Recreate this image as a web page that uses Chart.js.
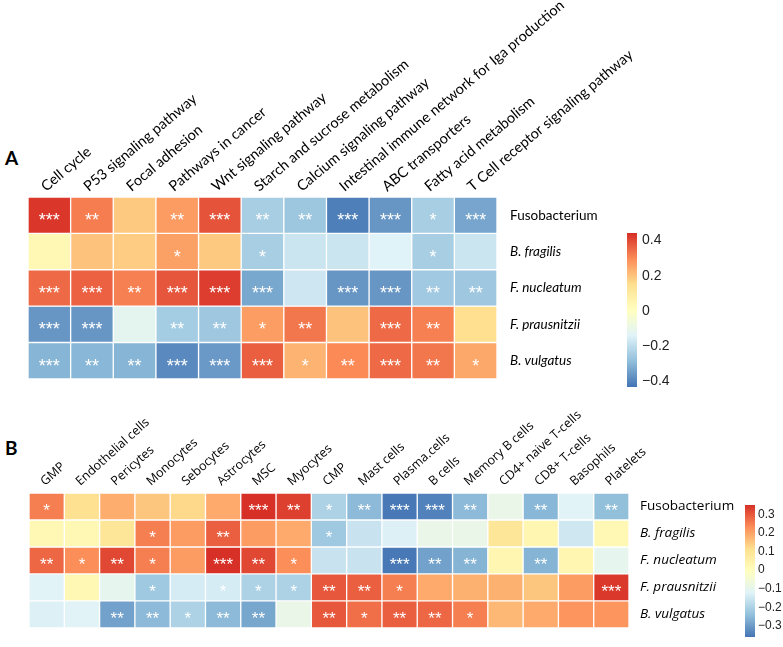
<!DOCTYPE html>
<html><head><meta charset="utf-8">
<script src="https://cdn.jsdelivr.net/npm/chart.js@4.4.0/dist/chart.umd.min.js"></script>
<style>
html,body{margin:0;padding:0;background:#fff;width:783px;height:647px;overflow:hidden;position:relative;}
canvas{position:absolute;}
.lbl{position:absolute;font-family:Lato,sans-serif;font-weight:bold;font-size:19px;color:#000;line-height:1;}
</style></head><body>
<div class="lbl" style="left:5px;top:148px">A</div>
<div class="lbl" style="left:5px;top:438px">B</div>
<canvas id="ha" width="783" height="400" style="left:0;top:0"></canvas>
<canvas id="ca" width="90" height="180" style="left:600px;top:220px"></canvas>
<canvas id="hb" width="783" height="247" style="left:0;top:400px"></canvas>
<canvas id="cb" width="65" height="156" style="left:718px;top:493px"></canvas>
<script>
// ---------- data ----------
const bacteria = ["Fusobacterium", "B. fragilis", "F. nucleatum", "F. prausnitzii", "B. vulgatus"];

const pathways = ["Cell cycle", "P53 signaling pathway", "Focal adhesion", "Pathways in cancer",
  "Wnt signaling pathway", "Starch and sucrose metabolism", "Calcium signaling pathway",
  "Intestinal immune network for Iga production", "ABC transporters", "Fatty acid metabolism",
  "T Cell receptor signaling pathway"];

const aFuso  = [0.43, 0.32, 0.19, 0.27, 0.385, -0.243, -0.263, -0.41, -0.365, -0.243, -0.335];
const aBfrag = [0.04, 0.20, 0.183, 0.26, 0.19, -0.243, -0.18, -0.18, -0.14, -0.243, -0.18];
const aFnuc  = [0.35, 0.363, 0.315, 0.38, 0.42, -0.33, -0.175, -0.365, -0.365, -0.256, -0.26];
const aFpra  = [-0.365, -0.365, -0.12, -0.25, -0.26, 0.265, 0.33, 0.20, 0.35, 0.315, 0.15];
const aBvul  = [-0.305, -0.30, -0.305, -0.39, -0.36, 0.367, 0.228, 0.30, 0.35, 0.33, 0.247];

const sAFuso  = ["***","**","","**","***","**","**","***","***","*","***"];
const sABfrag = ["","","","*","","*","","","","*",""];
const sAFnuc  = ["***","***","**","***","***","***","","***","***","**","**"];
const sAFpra  = ["***","***","","**","**","*","**","","***","**",""];
const sABvul  = ["***","**","**","***","***","***","*","**","***","**","*"];

const cells = ["GMP", "Endothelial cells", "Pericytes", "Monocytes", "Sebocytes", "Astrocytes", "MSC",
  "Myocytes", "CMP", "Mast cells", "Plasma.cells", "B cells", "Memory B cells", "CD4+ naive T-cells",
  "CD8+ T-cells", "Basophils", "Platelets"];

const bFuso  = [0.25, 0.11, 0.185, 0.15, 0.125, 0.19, 0.35, 0.33, -0.2, -0.25, -0.355, -0.34, -0.25, -0.09, -0.255, -0.12, -0.24];
const bBfrag = [0.02, 0.02, 0.09, 0.25, 0.21, 0.29, 0.21, 0.19, -0.22, -0.16, -0.13, -0.09, -0.09, 0.09, 0.03, -0.15, 0.02];
const bFnuc  = [0.28, 0.23, 0.32, 0.25, 0.21, 0.35, 0.32, 0.23, -0.16, -0.16, -0.355, -0.29, -0.26, 0.03, -0.26, 0.03, -0.1];
const bFpra  = [-0.12, 0.02, -0.1, -0.22, -0.14, -0.14, -0.2, -0.2, 0.3, 0.29, 0.25, 0.19, 0.18, 0.18, 0.15, 0.21, 0.34];
const bBvul  = [-0.13, -0.12, -0.29, -0.25, -0.2, -0.25, -0.28, -0.09, 0.3, 0.27, 0.29, 0.28, 0.25, 0.17, 0.19, 0.22, 0.22];

const sBFuso  = ["*","","","","","","***","**","*","**","***","***","**","","**","","**"];
const sBBfrag = ["","","","*","","**","","","*","","","","","","","",""];
const sBFnuc  = ["**","*","**","*","","***","**","*","","","***","**","**","","**","",""];
const sBFpra  = ["","","","*","","*","*","*","**","**","*","","","","","","***"];
const sBBvul  = ["","","**","**","*","**","**","","**","*","**","**","*","","","",""];

const rangeA = [-0.43, 0.44];
const rangeB = [-0.36, 0.35];
const cbTicksA = [0.4, 0.2, 0, -0.2, -0.4];
const cbTicksB = [0.3, 0.2, 0.1, 0, -0.1, -0.2, -0.3];

// ---------- colours (pheatmap default RdYlBu ramp) ----------
const palette = ["#4575b4","#91bfdb","#e0f3f8","#ffffbf","#fee090","#fc8d59","#d73027"];
function hex(h){return [parseInt(h.slice(1,3),16),parseInt(h.slice(3,5),16),parseInt(h.slice(5,7),16)];}
const palRGB = palette.map(hex);
function colorFor(v, min, max){
  let t = (v - min) / (max - min); t = Math.max(0, Math.min(1, t));
  const p = t * (palRGB.length - 1); const i = Math.min(Math.floor(p), palRGB.length - 2); const f = p - i;
  const a = palRGB[i], b = palRGB[i+1];
  return `rgb(${Math.round(a[0]+(b[0]-a[0])*f)},${Math.round(a[1]+(b[1]-a[1])*f)},${Math.round(a[2]+(b[2]-a[2])*f)})`;
}

function heatmap(id, cols, rows, values, stars, range, o){
  const datasets = rows.map((r, i) => ({
    label: r, data: cols.map(() => 1),
    backgroundColor: values[i].map(v => colorFor(v, range[0], range[1])),
    borderColor: o.border, borderWidth: o.bw, borderSkipped: false,
    categoryPercentage: 1, barPercentage: 1
  }));
  const starPlugin = { id: 'stars_' + id, afterDatasetsDraw(chart){
    const ctx = chart.ctx; ctx.save();
    ctx.fillStyle = '#fff'; ctx.font = o.starFont; ctx.textAlign = 'center'; ctx.textBaseline = 'alphabetic';
    chart.data.datasets.forEach((ds, i) => {
      chart.getDatasetMeta(i).data.forEach((bar, j) => {
        const s = stars[i][j]; if (!s) return;
        ctx.fillText(s, bar.x, (bar.y + bar.base) / 2 + o.starDy);
      });
    });
    ctx.restore();
  }};
  return new Chart(document.getElementById(id), {
    type: 'bar',
    data: { labels: cols, datasets },
    options: {
      responsive: false, animation: false, devicePixelRatio: 1,
      layout: { padding: { left: o.left, top: 0, right: 0, bottom: o.bottom } },
      plugins: { legend: { display: false }, tooltip: { enabled: false } },
      scales: {
        x: { position: 'top', stacked: true, grid: { display: false, drawTicks: false }, border: { display: false },
          ticks: { autoSkip: false, minRotation: o.rot, maxRotation: o.rot, padding: o.xpad, labelOffset: o.xoff,
            color: '#000', font: { family: o.xFamily, size: o.xSize } },
          afterFit: s => { s.height = o.xh; } },
        y: { position: 'right', stacked: true, min: 0, max: rows.length, reverse: true,
          grid: { display: false, drawTicks: false }, border: { display: false },
          afterBuildTicks: s => { s.ticks = rows.map((_, i) => ({ value: i + 0.5 })); },
          ticks: { padding: o.ypad, color: '#000',
            font: ctx => ({ family: o.yFamily, size: o.ySize, style: ctx.index === 0 ? 'normal' : 'italic' }),
            callback: v => rows[Math.floor(v)] },
          afterFit: s => { s.width = o.yw; } }
      }
    },
    plugins: [starPlugin]
  });
}

function colorbar(id, range, tickVals, o){
  const grad = { id: 'grad_' + id, beforeDatasetsDraw(chart){
    const ctx = chart.ctx, a = chart.chartArea, sc = chart.scales.y;
    for (let y = Math.floor(a.top); y < Math.ceil(a.bottom); y++){
      ctx.fillStyle = colorFor(sc.getValueForPixel(y + 0.5), range[0], range[1]);
      ctx.fillRect(a.left, y, a.right - a.left, 1);
    }
  }};
  return new Chart(document.getElementById(id), {
    type: 'bar',
    data: { labels: [''], datasets: [{ data: [] }] },
    options: {
      responsive: false, animation: false, devicePixelRatio: 1,
      layout: { padding: { left: o.left, top: o.pad, bottom: o.pad, right: 0 } },
      plugins: { legend: { display: false }, tooltip: { enabled: false } },
      scales: {
        x: { display: false },
        y: { position: 'right', min: range[0], max: range[1],
          grid: { display: false, drawTicks: false }, border: { display: false },
          afterBuildTicks: s => { s.ticks = tickVals.map(v => ({ value: v })); },
          ticks: { padding: o.tp, color: '#222', font: { family: 'Liberation Sans', size: o.size },
            callback: v => Math.abs(v) < 1e-9 ? '0' : (v < 0 ? '\u2212' : '') + Math.abs(v).toFixed(1) },
          afterFit: s => { s.width = o.w; } }
      }
    },
    plugins: [grad]
  });
}

heatmap('ha', pathways, bacteria, [aFuso, aBfrag, aFnuc, aFpra, aBvul],
  [sAFuso, sABfrag, sAFnuc, sAFpra, sABvul], rangeA,
  { left: 28, bottom: 7, xh: 197, yw: 286, rot: 40, xpad: 2, xoff: 5, xFamily: 'Lato', xSize: 14.5,
    ypad: 13, yFamily: 'Lato', ySize: 13.5, border: '#fff', bw: 1,
    starFont: '18px "Liberation Sans"', starDy: 11 });

heatmap('hb', cells, bacteria, [bFuso, bBfrag, bFnuc, bFpra, bBvul],
  [sBFuso, sBBfrag, sBFnuc, sBFpra, sBBvul], rangeB,
  { left: 29, bottom: 3, xh: 93, yw: 154, rot: 42, xpad: 4, xoff: 6, xFamily: 'Open Sans', xSize: 12.5,
    ypad: 11, yFamily: 'Open Sans', ySize: 13.5, border: 'rgba(255,255,255,0.85)', bw: 1,
    starFont: '17px "Liberation Sans"', starDy: 10 });

colorbar('ca', rangeA, cbTicksA, { left: 27, pad: 12, w: 53, tp: 5, size: 14 });
colorbar('cb', rangeB, cbTicksB, { left: 27, pad: 12, w: 28, tp: 3, size: 12 });
</script>
</body></html>
